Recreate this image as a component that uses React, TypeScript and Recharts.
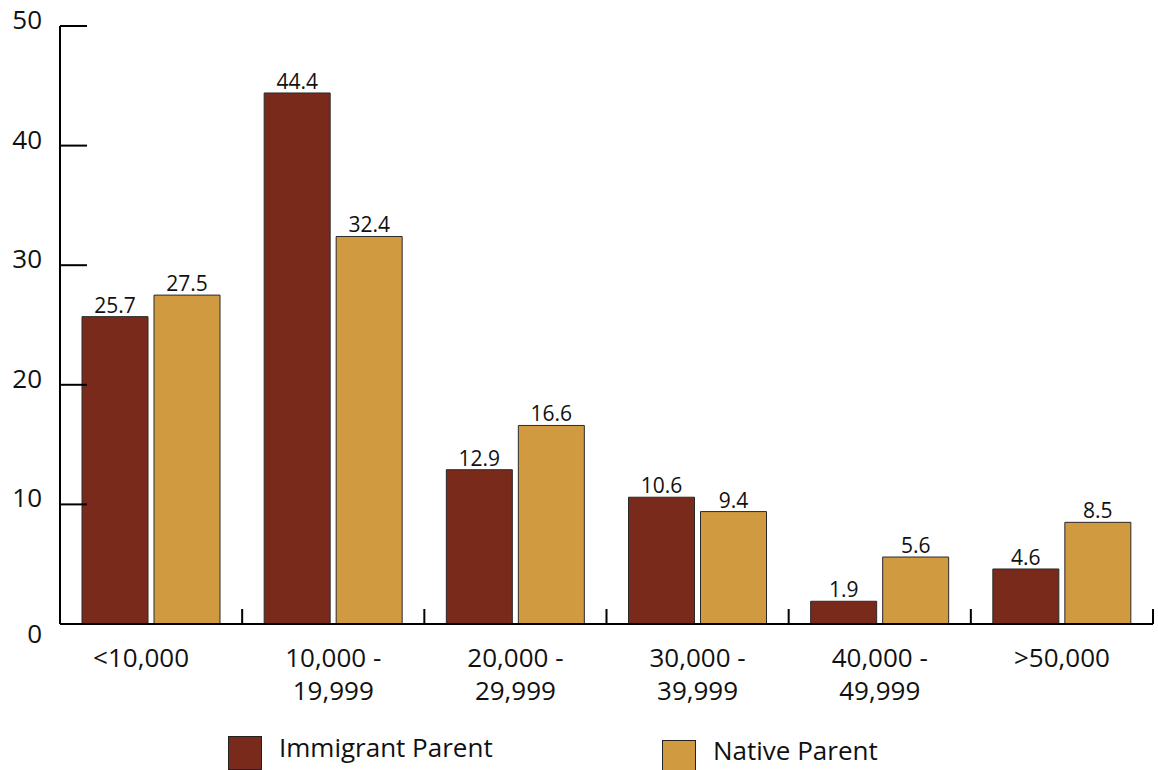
import React from "react";
import { BarChart, Bar, XAxis, YAxis, Legend, LabelList } from "recharts";

const categories = ["<10,000", "10,000 -\n19,999", "20,000 -\n29,999", "30,000 -\n39,999", "40,000 -\n49,999", ">50,000"];
const immigrantParent = [25.7, 44.4, 12.9, 10.6, 1.9, 4.6];
const nativeParent = [27.5, 32.4, 16.6, 9.4, 5.6, 8.5];
const yTicks = [0, 10, 20, 30, 40, 50];
const seriesNames = ["Immigrant Parent", "Native Parent"];
const seriesColors = ["#7A2A1B", "#D09A40"];

const data = categories.map((c, i) => ({
  category: c,
  immigrant: immigrantParent[i],
  native: nativeParent[i],
}));

const FONT = "'Open Sans', 'Noto Sans', sans-serif";

const YTick = (props: any) => {
  const { x, y, payload } = props;
  const v = payload.value;
  return (
    <g>
      <line x1={x} x2={x + 27} y1={y} y2={y} stroke="#000" strokeWidth={2} />
      <text x={x - 18} y={v === 0 ? y + 19 : y + 3} textAnchor="end" fontSize={26} fontFamily={FONT} fill="#111">
        {v}
      </text>
    </g>
  );
};

const XTick = (props: any) => {
  const { x, y, payload, index, width, visibleTicksCount } = props;
  const band = width / visibleTicksCount;
  const lines = String(payload.value).split("\n");
  const left = x - band / 2;
  const right = x + band / 2;
  const dx = index === 0 ? -10 : 0;
  return (
    <g>
      {index > 0 && <line x1={left} x2={left} y1={y - 15} y2={y} stroke="#000" strokeWidth={2} />}
      {index === visibleTicksCount - 1 && (
        <line x1={right} x2={right} y1={y - 15} y2={y} stroke="#000" strokeWidth={2} />
      )}
      {lines.map((l, i) => (
        <text key={i} x={x + dx} y={y + 43 + i * 33} textAnchor="middle" fontSize={26} fontFamily={FONT} fill="#111">
          {l}
        </text>
      ))}
    </g>
  );
};

const legendPos = [
  { left: 228, top: 736, textLeft: 279, textTop: 732 },
  { left: 662, top: 740, textLeft: 713, textTop: 735 },
];

const LegendContent = (props: any) => {
  const payload = props.payload || [];
  return (
    <div style={{ position: "relative", width: 1158, height: 0 }}>
      {payload.map((p: any, i: number) => {
        const pos = legendPos[i] || legendPos[0];
        return (
          <React.Fragment key={i}>
            <div
              style={{
                position: "absolute",
                left: pos.left,
                top: pos.top,
                width: 34,
                height: 34,
                boxSizing: "border-box",
                background: p.color,
                border: "1.5px solid #222",
              }}
            />
            <div
              style={{
                position: "absolute",
                left: pos.textLeft,
                top: pos.textTop,
                fontSize: 26,
                lineHeight: "30px",
                fontFamily: FONT,
                color: "#111",
                whiteSpace: "nowrap",
              }}
            >
              {p.value}
            </div>
          </React.Fragment>
        );
      })}
    </div>
  );
};

export default function App() {
  return (
    <div style={{ position: "absolute", left: 0, top: 0, width: 1158, height: 770, overflow: "hidden", background: "#fff" }}>
      <BarChart
        width={1158}
        height={770}
        data={data}
        margin={{ top: 26, right: 5, left: 0, bottom: 0 }}
        barCategoryGap={22}
        barGap={6}
      >
        <YAxis
          type="number"
          domain={[0, 50]}
          ticks={yTicks}
          width={60}
          tickSize={0}
          tickMargin={0}
          tickLine={false}
          axisLine={{ stroke: "#000", strokeWidth: 2 }}
          tick={<YTick />}
          interval={0}
        />
        <XAxis
          dataKey="category"
          height={146}
          tickSize={0}
          tickMargin={0}
          tickLine={false}
          axisLine={{ stroke: "#000", strokeWidth: 2 }}
          tick={<XTick />}
          interval={0}
        />
        <Legend
          verticalAlign="top"
          wrapperStyle={{ position: "absolute", left: 0, top: 0, width: 1158, height: 0 }}
          content={<LegendContent />}
        />
        <Bar dataKey="immigrant" name={seriesNames[0]} fill={seriesColors[0]} stroke="#2a2a2a" strokeWidth={1} isAnimationActive={false}>
          <LabelList dataKey="immigrant" position="top" offset={4} fontSize={21} fontFamily={FONT} fill="#111" />
        </Bar>
        <Bar dataKey="native" name={seriesNames[1]} fill={seriesColors[1]} stroke="#2a2a2a" strokeWidth={1} isAnimationActive={false}>
          <LabelList dataKey="native" position="top" offset={4} fontSize={21} fontFamily={FONT} fill="#111" />
        </Bar>
      </BarChart>
    </div>
  );
}
